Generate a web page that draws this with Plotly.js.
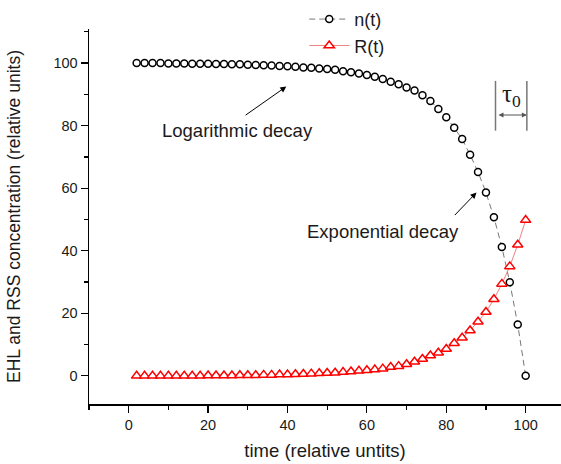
<!DOCTYPE html>
<html>
<head>
<meta charset="utf-8">
<script src="https://cdn.plot.ly/plotly-3.0.1.min.js"></script>
<style>html,body{margin:0;padding:0;background:#fff;overflow:hidden}</style>
</head>
<body>
<div id="chart" style="width:561px;height:464px"></div>
<script>
const time = [2,4,6,8,10,12,14,16,18,20,22,24,26,28,30,32,34,36,38,40,42,44,46,48,50,52,54,56,58,60,62,64,66,68,70,72,74,76,78,80,82,84,86,88,90,92,94,96,98,100];
const nValues = [100,100,100,100,99.9,99.9,99.9,99.8,99.8,99.8,99.7,99.7,99.6,99.6,99.5,99.4,99.3,99.2,99.1,99.0,98.8,98.6,98.5,98.3,98.1,97.9,97.4,97.1,96.7,96.2,95.6,94.9,94.0,93.2,92.2,91.2,89.7,87.9,85.3,82.7,79.3,75.7,70.7,65.2,58.6,50.7,41.2,29.9,16.4,0];
const rValues = [0,0,0,0,0,0,0,0,0,0.1,0.1,0.1,0.1,0.2,0.2,0.2,0.3,0.3,0.4,0.4,0.5,0.6,0.7,0.8,0.9,1.0,1.2,1.4,1.6,1.8,2.0,2.3,2.8,3.1,3.7,4.5,5.4,6.5,7.4,8.6,10.4,12.2,14.5,17.3,20.4,24.5,29.4,35.0,41.9,49.8];
const seriesNames = ['n(t)', 'R(t)'];
const xTitle = 'time (relative untits)';
const yTitle = 'EHL and RSS concentration (relative units)';
const tauLeft = 92.4, tauRight = 100.3, tauTop = 94.3, tauBottom = 78.4, tauArrowY = 83.4;

const traces = [
  {x: time, y: nValues, name: seriesNames[0], type: 'scatter', mode: 'lines+markers',
   line: {color: '#777', width: 1, dash: '6px,4px'},
   marker: {symbol: 'circle', size: 7, color: 'white', line: {color: 'black', width: 1.5}}},
  {x: time, y: rValues, name: seriesNames[1], type: 'scatter', mode: 'lines+markers',
   line: {color: '#f08080', width: 1},
   marker: {symbol: 'triangle-up', size: 9, color: 'white', line: {color: 'red', width: 1.5}}}
];

const txt = '#1a1a1a';
const axisFont = {family: 'Liberation Sans, Arial, sans-serif', size: 14.5, color: txt};
const layout = {
  width: 561, height: 464,
  margin: {l: 89, r: 0, t: 29, b: 60},
  paper_bgcolor: 'white', plot_bgcolor: 'white',
  font: {family: 'Liberation Sans, Arial, sans-serif', color: txt},
  showlegend: true,
  legend: {x: 0.456, y: 1.075, xanchor: 'left', yanchor: 'top', bgcolor: 'rgba(0,0,0,0)',
           font: {size: 18, color: txt}, itemwidth: 40, tracegroupgap: 0},
  xaxis: {range: [-10, 108.9], showgrid: false, zeroline: false, showline: true,
          linecolor: 'black', linewidth: 1.5, ticks: 'outside', ticklen: 7, tickwidth: 1.2,
          tickcolor: 'black', tick0: 0, dtick: 20, tickfont: axisFont,
          minor: {ticks: 'outside', ticklen: 4, dtick: 10, tick0: 0, tickcolor: 'black', tickwidth: 1.2, showgrid: false},
          title: {text: xTitle, font: {size: 18.5, color: txt}, standoff: 12}},
  yaxis: {range: [-9, 110.9], showgrid: false, zeroline: false, showline: true,
          linecolor: 'black', linewidth: 1.5, ticks: 'outside', ticklen: 7, tickwidth: 1.2,
          tickcolor: 'black', tick0: 0, dtick: 20, tickfont: axisFont,
          minor: {ticks: 'outside', ticklen: 4, dtick: 10, tick0: 0, tickcolor: 'black', tickwidth: 1.2, showgrid: false},
          title: {text: yTitle, font: {size: 17.5, color: txt}, standoff: 28}},
  shapes: [
    {type: 'line', xref: 'x', yref: 'y', x0: tauLeft, x1: tauLeft, y0: tauBottom, y1: tauTop, line: {color: '#777', width: 1.5}},
    {type: 'line', xref: 'x', yref: 'y', x0: tauRight, x1: tauRight, y0: tauBottom, y1: tauTop, line: {color: '#777', width: 1.5}}
  ],
  annotations: [
    {x: 39.7, y: 92.5, ax: 28.7, ay: 82.7, xref: 'x', yref: 'y', axref: 'x', ayref: 'y',
     showarrow: true, arrowhead: 2, arrowsize: 1.2, arrowwidth: 1, arrowcolor: 'black', text: ' '},
    {x: 27.5, y: 78.6, xref: 'x', yref: 'y', showarrow: false, text: 'Logarithmic decay',
     font: {size: 18.5, color: txt}},
    {x: 87.6, y: 58.6, ax: 81.4, ay: 50.4, xref: 'x', yref: 'y', axref: 'x', ayref: 'y',
     showarrow: true, arrowhead: 2, arrowsize: 1.2, arrowwidth: 1, arrowcolor: 'black', text: ' '},
    {x: 64, y: 46, xref: 'x', yref: 'y', showarrow: false, text: 'Exponential decay',
     font: {size: 18.5, color: txt}},
    {x: tauRight, y: tauArrowY, ax: tauLeft, ay: tauArrowY, xref: 'x', yref: 'y', axref: 'x', ayref: 'y',
     showarrow: true, arrowhead: 2, startarrowhead: 2, arrowside: 'end+start', arrowsize: 1, arrowwidth: 1, arrowcolor: '#555', text: ' '},
    {x: (tauLeft + tauRight) / 2, y: 89.5, xref: 'x', yref: 'y', showarrow: false,
     text: 'τ<sub>0</sub>', font: {family: 'Liberation Serif, Times New Roman, serif', size: 25, color: txt}}
  ]
};

Plotly.newPlot('chart', traces, layout, {displayModeBar: false, staticPlot: true});
</script>
</body>
</html>
